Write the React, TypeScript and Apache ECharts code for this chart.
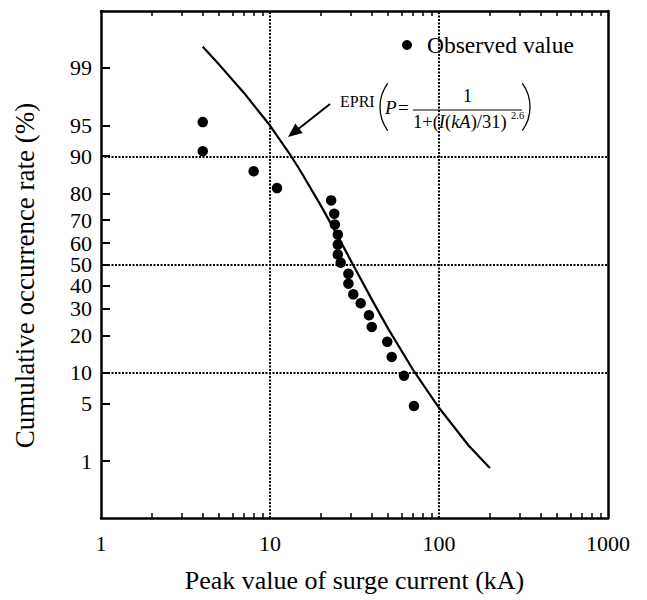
import React, { useEffect, useRef } from "react";
import * as echarts from "echarts";

// ---- data ----
const probTickLabels = [1, 5, 10, 20, 30, 40, 50, 60, 70, 80, 90, 95, 99];
const currentMajorTicks = [1, 10, 100, 1000];
const currentMinorTicks = [2, 3, 4, 5, 6, 7, 8, 9, 20, 30, 40, 50, 60, 70, 80, 90, 200, 300, 400, 500, 600, 700, 800, 900];
const gridCurrents = [10, 100];
const gridRates = [90, 50, 10];

// observed values: peak current (kA) and cumulative occurrence rate (%)
const obsCurrent = [4.0, 4.0, 8.0, 11.0, 23.0, 24.0, 24.2, 25.2, 25.2, 25.2, 26.2, 29.1, 29.1, 31.1, 34.4, 38.5, 40.0, 49.4, 52.5, 62.1, 71.1];
const obsRate = [95.4, 91.0, 86.5, 81.7, 77.6, 72.6, 68.2, 63.8, 59.3, 54.7, 50.8, 45.6, 41.0, 36.2, 32.3, 27.4, 23.0, 18.0, 13.7, 9.4, 4.7];

// EPRI curve
const epriCurrent = [4, 5, 7, 10, 13, 15, 20, 25, 30, 40, 50, 70, 100, 150, 200];
const epriRate = [99.5, 99.1, 97.9, 95.0, 90.6, 86.9, 75.7, 63.6, 52.0, 34.0, 22.4, 10.7, 4.5, 1.6, 0.8];

// normal-probability scale transform (percent -> z)
function probit(pct: number): number {
  const p = pct / 100;
  const a = [-3.969683028665376e1, 2.209460984245205e2, -2.759285104469687e2, 1.38357751867269e2, -3.066479806614716e1, 2.506628277459239];
  const b = [-5.447609879822406e1, 1.615858368580409e2, -1.556989798598866e2, 6.680131188771972e1, -1.328068155288572e1];
  const c = [-7.784894002430293e-3, -3.223964580411365e-1, -2.400758277161838, -2.549732539343734, 4.374664141464968, 2.938163982698783];
  const d = [7.784695709041462e-3, 3.224671290700398e-1, 2.445134137142996, 3.754408661907416];
  const pl = 0.02425;
  if (p < pl) {
    const q = Math.sqrt(-2 * Math.log(p));
    return (((((c[0] * q + c[1]) * q + c[2]) * q + c[3]) * q + c[4]) * q + c[5]) / ((((d[0] * q + d[1]) * q + d[2]) * q + d[3]) * q + 1);
  }
  if (p <= 1 - pl) {
    const q = p - 0.5;
    const r = q * q;
    return ((((((a[0] * r + a[1]) * r + a[2]) * r + a[3]) * r + a[4]) * r + a[5]) * q) / (((((b[0] * r + b[1]) * r + b[2]) * r + b[3]) * r + b[4]) * r + 1);
  }
  const q = Math.sqrt(-2 * Math.log(1 - p));
  return -(((((c[0] * q + c[1]) * q + c[2]) * q + c[3]) * q + c[4]) * q + c[5]) / ((((d[0] * q + d[1]) * q + d[2]) * q + d[3]) * q + 1);
}

const FONT = "Liberation Serif";

export default function App() {
  const ref = useRef<HTMLDivElement>(null);
  useEffect(() => {
    if (!ref.current) return;
    const chart = echarts.init(ref.current, undefined, { renderer: "svg" });
    const zTicks = probTickLabels.map(probit);
    const labelFor = (v: number) => {
      for (let i = 0; i < zTicks.length; i++) if (Math.abs(zTicks[i] - v) < 1e-6) return String(probTickLabels[i]);
      return "";
    };
    const axisLineStyle = { color: "#000", width: 2.5 };
    const dotted = { color: "#000", width: 2, type: [2, 1.5] as number[] };
    chart.setOption({
      animation: false,
      backgroundColor: "#fff",
      textStyle: { fontFamily: FONT },
      grid: { left: 101, top: 11, right: 39, bottom: 82, containLabel: false },
      legend: {
        data: ["Observed value"],
        left: 397,
        top: 28,
        icon: "circle",
        itemWidth: 10,
        itemHeight: 10,
        selectedMode: false,
        textStyle: { fontSize: 23.5, color: "#000", fontFamily: FONT, padding: [0, 0, 0, 10] },
      },
      xAxis: [
        {
          type: "log",
          logBase: 10,
          min: 1,
          max: 1000,
          position: "bottom",
          axisLine: { onZero: false, lineStyle: axisLineStyle },
          axisTick: { inside: true, length: 5, customValues: currentMinorTicks, lineStyle: { color: "#000", width: 1.5 } },
          axisLabel: { customValues: currentMajorTicks, formatter: (v: number) => String(Math.round(v)), fontSize: 22, color: "#000", fontFamily: FONT, margin: 14 },
          minorTick: { show: false },
          splitLine: { show: false },
          name: "Peak value of surge current (kA)",
          nameLocation: "middle",
          nameGap: 49,
          nameTextStyle: { fontSize: 26, color: "#000", fontFamily: FONT },
        },
        {
          type: "log",
          logBase: 10,
          min: 1,
          max: 1000,
          position: "top",
          axisLine: { onZero: false, lineStyle: axisLineStyle },
          axisTick: { inside: true, length: 5, customValues: currentMinorTicks, lineStyle: { color: "#000", width: 1.5 } },
          axisLabel: { show: false },
          splitLine: { show: false },
        },
      ],
      yAxis: [
        {
          type: "value",
          min: -3,
          max: 3,
          axisLine: { show: true, onZero: false, lineStyle: axisLineStyle },
          axisTick: { show: true, inside: true, length: 9, customValues: zTicks, lineStyle: { color: "#000", width: 2 } },
          axisLabel: { customValues: zTicks, formatter: (v: number) => labelFor(v), fontSize: 22, color: "#000", fontFamily: FONT, margin: 9 },
          splitLine: { show: false },
          name: "Cumulative occurrence rate (%)",
          nameLocation: "middle",
          nameGap: 63,
          nameRotate: 90,
          nameTextStyle: { fontSize: 27, color: "#000", fontFamily: FONT, padding: [0, 22, 0, 0] },
        },
        {
          type: "value",
          min: -3,
          max: 3,
          position: "right",
          axisLine: { show: true, onZero: false, lineStyle: axisLineStyle },
          axisTick: { show: false },
          axisLabel: { show: false },
          splitLine: { show: false },
        },
      ],
      series: [
        {
          name: "EPRI",
          type: "line",
          xAxisIndex: 0,
          yAxisIndex: 0,
          data: epriCurrent.map((x, i) => [x, probit(epriRate[i])]),
          showSymbol: false,
          symbol: "none",
          lineStyle: { color: "#000", width: 2.2 },
          z: 3,
          markLine: {
            silent: true,
            symbol: ["none", "none"],
            label: { show: false },
            lineStyle: dotted,
            emphasis: { disabled: true },
            data: [
              ...gridCurrents.map((x) => ({ xAxis: x })),
              ...gridRates.map((r) => ({ yAxis: probit(r) })),
            ],
          },
        },
        {
          name: "Observed value",
          type: "scatter",
          xAxisIndex: 0,
          yAxisIndex: 0,
          data: obsCurrent.map((x, i) => [x, probit(obsRate[i])]),
          symbol: "circle",
          symbolSize: 10.5,
          itemStyle: { color: "#000", opacity: 1 },
          z: 4,
        },
      ],
      graphic: [
        { type: "text", left: 340, top: 93, style: { text: "EPRI", fontSize: 16, fontFamily: FONT, fill: "#000" } },
        { type: "arc", shape: { cx: 420, cy: 107, r: 40, startAngle: Math.PI * 0.8, endAngle: Math.PI * 1.2, clockwise: true }, style: { stroke: "#000", lineWidth: 1.3, fill: "none" } },
        { type: "arc", shape: { cx: 490, cy: 107, r: 40, startAngle: -Math.PI * 0.2, endAngle: Math.PI * 0.2, clockwise: true }, style: { stroke: "#000", lineWidth: 1.3, fill: "none" } },
        { type: "text", left: 385, top: 98, style: { text: "P", fontSize: 19, fontStyle: "italic", fontFamily: FONT, fill: "#000" } },
        { type: "text", left: 398, top: 98, style: { text: "=", fontSize: 19, fontFamily: FONT, fill: "#000" } },
        { type: "text", left: 463, top: 87, style: { text: "1", fontSize: 18, fontFamily: FONT, fill: "#000" } },
        { type: "line", shape: { x1: 413, y1: 110, x2: 522, y2: 110 }, style: { stroke: "#000", lineWidth: 1 } },
        {
          type: "text",
          left: 413,
          top: 112,
          style: {
            text: "{n|1+(}{i|I}{n|(}{i|kA}{n|)/31)}",
            rich: {
              n: { fontSize: 18.5, fontFamily: FONT, fill: "#000" },
              i: { fontSize: 18.5, fontFamily: FONT, fontStyle: "italic", fill: "#000" },
            },
          },
        },
        { type: "text", left: 511, top: 110, style: { text: "2.6", fontSize: 10.5, fontFamily: FONT, fill: "#000" } },
        { type: "line", shape: { x1: 330, y1: 104, x2: 297, y2: 130 }, style: { stroke: "#000", lineWidth: 2 } },
        { type: "polygon", shape: { points: [[288, 137], [302.7, 133], [295.3, 123.6]] }, style: { fill: "#000" } },
      ],
    });
    return () => chart.dispose();
  }, []);
  return <div ref={ref} style={{ position: "absolute", left: 0, top: 0, width: 647, height: 600 }} />;
}
